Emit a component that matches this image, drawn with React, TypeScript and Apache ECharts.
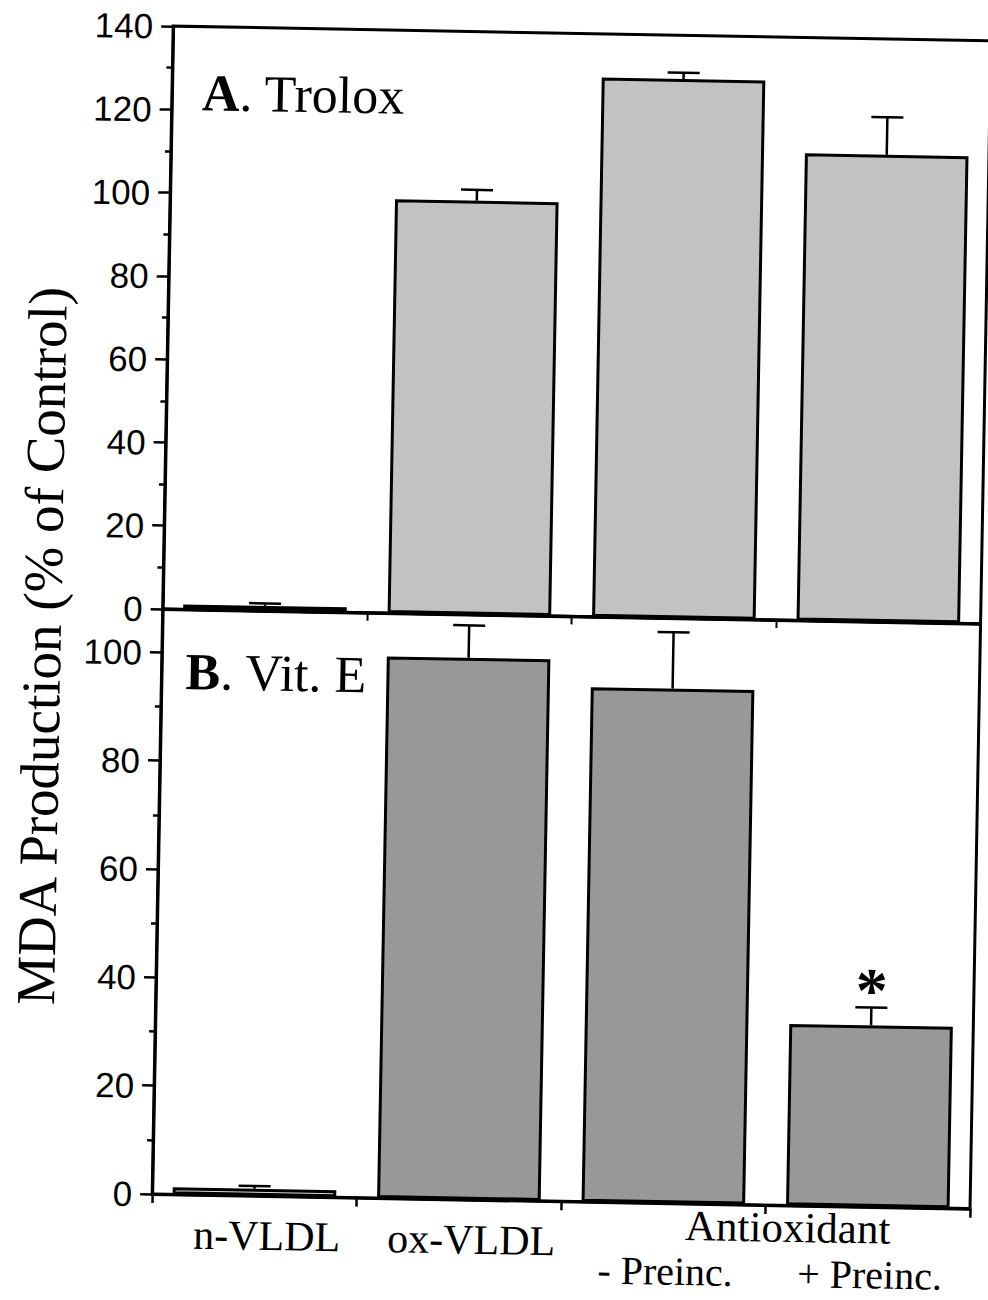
import React, { useEffect, useRef } from "react";
import * as echarts from "echarts";

// ---- data ----
const categories = ["n-VLDL", "ox-VLDL", "- Preinc.", "+ Preinc."];
const troloxMeans = [1.2, 99.4, 129.5, 112.2];
const troloxErrors = [0.6, 2.6, 1.5, 9.0];
const vitEMeans = [1.3, 100, 95, 33.5];
const vitEErrors = [0.5, 6, 10.4, 3.3];
const vitEMarks = ["", "", "", "*"];
const yTicksA = [0, 20, 40, 60, 80, 100, 120, 140];
const yTicksB = [0, 20, 40, 60, 80, 100];
const yMinorB = [10, 30, 50, 70, 90];
const panelATitle = ["A", ". Trolox"];
const panelBTitle = ["B", ". Vit. E"];
const groupLabel = "Antioxidant";
const yTitle = "MDA Production (% of Control)";

const SERIF = "'Liberation Serif', 'Times New Roman', serif";
const SANS = "'Liberation Sans', Arial, sans-serif";

function errorRenderer(marks: string[] | null) {
  return (params: any, api: any) => {
    const x = api.value(0);
    const m = api.value(1);
    const e = api.value(2);
    const base = api.coord([x, m]);
    const top = api.coord([x, m + e]);
    const hw = 16;
    const children: any[] = [
      {
        type: "line",
        shape: { x1: base[0], y1: base[1], x2: top[0], y2: top[1] },
        style: { stroke: "#000", lineWidth: 2.5 },
      },
      {
        type: "line",
        shape: { x1: top[0] - hw, y1: top[1], x2: top[0] + hw, y2: top[1] },
        style: { stroke: "#000", lineWidth: 2.5 },
      },
    ];
    const mark = marks ? marks[params.dataIndex] : "";
    if (mark) {
      children.push({
        type: "text",
        x: top[0],
        y: top[1] - 17,
        style: {
          text: mark,
          fontSize: 64,
          fontFamily: SERIF,
          fontWeight: "bold",
          fill: "#000",
          align: "center",
          verticalAlign: "middle",
        },
      });
    }
    return { type: "group", children };
  };
}

export default function App() {
  const ref = useRef<HTMLDivElement>(null);
  useEffect(() => {
    if (!ref.current) return;
    const chart = echarts.init(ref.current, null, { renderer: "svg" });
    const gridLeft = 162;
    const gridRight = 8;
    const lineStyle = { color: "#000", width: 3 };
    const yLabel = { fontFamily: SANS, fontSize: 35, color: "#000", margin: 20 };
    const fillA = "#c2c2c2";
    const fillB = "#989898";
    const fillLight = "#dadada";

    chart.setOption({
      animation: false,
      backgroundColor: "#fff",
      grid: [
        { left: gridLeft, right: gridRight, top: 32, height: 583, show: true, borderColor: "#000", borderWidth: 3 },
        { left: gridLeft, right: gridRight, top: 615, height: 585, show: true, borderColor: "#000", borderWidth: 3 },
      ],
      xAxis: [
        {
          type: "category",
          gridIndex: 0,
          data: categories,
          axisLine: { lineStyle },
          axisTick: { show: true, length: 8, lineStyle: { color: "#000", width: 2 } },
          axisLabel: { show: false },
        },
        {
          type: "category",
          gridIndex: 1,
          data: categories,
          axisLine: { lineStyle },
          axisTick: { show: true, length: 9, lineStyle: { color: "#000", width: 2.5 } },
          axisLabel: {
            margin: 19,
            formatter: (v: string, i: number) => (i < 2 ? `{a|${v}}` : `{b|${v}}`),
            rich: {
              a: { fontFamily: SERIF, fontSize: 42, color: "#000", padding: [0, 0, 0, 26] },
              b: { fontFamily: SERIF, fontSize: 40, color: "#000", padding: [29, 0, 0, 6] },
            },
          },
        },
      ],
      yAxis: [
        {
          type: "value",
          gridIndex: 0,
          min: 0,
          max: 140,
          interval: 20,
          axisLine: { show: true, lineStyle },
          axisTick: { show: true, length: 12, lineStyle: { color: "#000", width: 2.5 } },
          minorTick: { show: true, splitNumber: 2, length: 6, lineStyle: { color: "#000", width: 2.5 } },
          axisLabel: { ...yLabel, customValues: yTicksA },
          splitLine: { show: false },
        },
        {
          type: "value",
          gridIndex: 1,
          position: "left",
          min: 0,
          max: 108,
          axisLine: { show: true, lineStyle },
          axisTick: { show: true, length: 12, customValues: yTicksB, lineStyle: { color: "#000", width: 2.5 } },
          axisLabel: { ...yLabel, customValues: yTicksB },
          splitLine: { show: false },
        },
        {
          type: "value",
          gridIndex: 1,
          position: "left",
          offset: 0,
          min: 0,
          max: 108,
          axisLine: { show: false },
          axisTick: { show: true, length: 6, customValues: yMinorB, lineStyle: { color: "#000", width: 2.5 } },
          axisLabel: { show: false },
          splitLine: { show: false },
        },
      ],
      series: [
        {
          type: "bar",
          xAxisIndex: 0,
          yAxisIndex: 0,
          barCategoryGap: "20%",
          data: troloxMeans.map((v, i) => ({ value: v, itemStyle: { color: i === 0 ? fillLight : fillA } })),
          itemStyle: { borderColor: "#000", borderWidth: 3 },
          z: 2,
        },
        {
          type: "custom",
          xAxisIndex: 0,
          yAxisIndex: 0,
          data: troloxMeans.map((m, i) => [i, m, troloxErrors[i]]),
          encode: { x: 0, y: 1 },
          renderItem: errorRenderer(null),
          z: 3,
        },
        {
          type: "bar",
          xAxisIndex: 1,
          yAxisIndex: 1,
          barCategoryGap: "20%",
          data: vitEMeans.map((v, i) => ({ value: v, itemStyle: { color: i === 0 ? fillLight : fillB } })),
          itemStyle: { borderColor: "#000", borderWidth: 3 },
          z: 2,
        },
        {
          type: "custom",
          xAxisIndex: 1,
          yAxisIndex: 1,
          data: vitEMeans.map((m, i) => [i, m, vitEErrors[i]]),
          encode: { x: 0, y: 1 },
          renderItem: errorRenderer(vitEMarks),
          z: 3,
        },
      ],
      graphic: [
        {
          type: "text",
          left: 192,
          top: 72,
          style: {
            text: `{b|${panelATitle[0]}}{n|${panelATitle[1]}}`,
            rich: {
              b: { fontFamily: SERIF, fontSize: 52, fontWeight: "bold", fill: "#000" },
              n: { fontFamily: SERIF, fontSize: 52, fill: "#000" },
            },
          },
        },
        {
          type: "text",
          left: 186,
          top: 651,
          style: {
            text: `{b|${panelBTitle[0]}}{n|${panelBTitle[1]}}`,
            rich: {
              b: { fontFamily: SERIF, fontSize: 52, fontWeight: "bold", fill: "#000" },
              n: { fontFamily: SERIF, fontSize: 52, fill: "#000" },
            },
          },
        },
        {
          type: "text",
          x: 42,
          y: 654,
          rotation: Math.PI / 2,
          style: {
            text: yTitle,
            fontFamily: SERIF,
            fontSize: 55,
            fill: "#000",
            align: "center",
            verticalAlign: "middle",
          },
        },
        {
          type: "text",
          x: 798,
          y: 1222,
          style: {
            text: groupLabel,
            fontFamily: SERIF,
            fontSize: 43,
            fill: "#000",
            align: "center",
            verticalAlign: "middle",
          },
        },
      ],
    });
    return () => chart.dispose();
  }, []);

  return (
    <div style={{ position: "absolute", left: 0, top: 0, width: 988, height: 1300, overflow: "hidden", background: "#fff" }}>
      <div
        ref={ref}
        style={{ position: "absolute", left: 0, top: 0, width: 988, height: 1300, transform: "rotate(1.03deg)" }}
      />
    </div>
  );
}
